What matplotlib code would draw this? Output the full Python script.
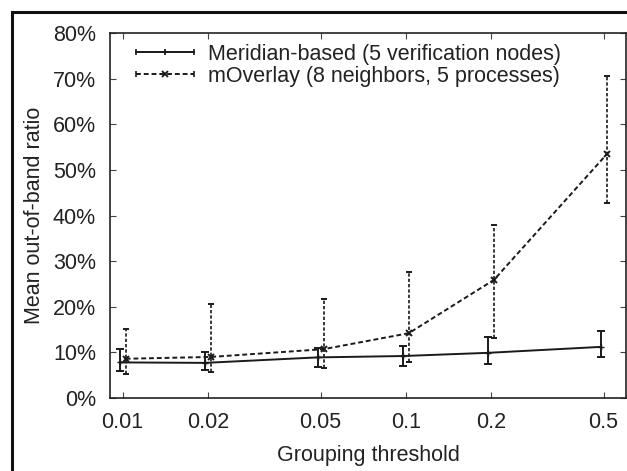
import matplotlib
matplotlib.use('Agg')
from matplotlib import pyplot as plt
from matplotlib.patches import Rectangle
from matplotlib.lines import Line2D

plt.rcParams['font.family'] = ['Liberation Sans', 'DejaVu Sans']

thresholds = [0.01, 0.02, 0.05, 0.1, 0.2, 0.5]

# Meridian-based (5 verification nodes), in percent
meridian_mean = [7.8, 7.7, 8.9, 9.2, 9.9, 11.2]
meridian_low = [6.0, 6.2, 6.8, 7.1, 7.5, 8.9]
meridian_high = [10.7, 10.1, 11.0, 11.4, 13.4, 14.7]

# mOverlay (8 neighbors, 5 processes), in percent
moverlay_mean = [8.6, 9.0, 10.7, 14.2, 25.9, 53.4]
moverlay_low = [5.3, 5.8, 6.6, 7.8, 13.1, 42.8]
moverlay_high = [15.2, 20.6, 21.6, 27.6, 37.9, 70.6]

xticklabels = ['0.01', '0.02', '0.05', '0.1', '0.2', '0.5']
yticks = [0, 10, 20, 30, 40, 50, 60, 70, 80]

FS = 15.5
INK = '#1a1a1a'
DASH = (0, (2.5, 1.5))


class CapHandler:
    # legend key drawn like gnuplot: |---marker---|
    def __init__(self, ls, marker):
        self.ls = ls
        self.marker = marker

    def legend_artist(self, legend, orig_handle, fontsize, handlebox):
        x0, y0 = handlebox.xdescent, handlebox.ydescent
        w, h = handlebox.width, handlebox.height
        y = y0 + h / 2
        line = Line2D([x0, x0 + w], [y, y], color=INK, linestyle=self.ls, linewidth=1.4)
        caps = Line2D([x0, x0 + w], [y, y], color=INK, linestyle='none', marker='|',
                      markersize=5, markeredgewidth=1.2)
        mid = Line2D([x0 + w / 2], [y], color=INK, linestyle='none', marker=self.marker,
                     markersize=5, markeredgewidth=1.3)
        for a in (line, caps, mid):
            a.set_transform(handlebox.get_transform())
            handlebox.add_artist(a)
        return line


fig = plt.figure(figsize=(6.27, 4.71), dpi=100)
ax = fig.add_axes([110 / 627, 1 - 398 / 471, 516 / 627, 365 / 471])

# small horizontal shift so the two series don't overlap
xm = [x * 0.976 for x in thresholds]
xo = [x * 1.025 for x in thresholds]

m_err = [[m - lo for m, lo in zip(meridian_mean, meridian_low)],
         [hi - m for m, hi in zip(meridian_mean, meridian_high)]]
o_err = [[m - lo for m, lo in zip(moverlay_mean, moverlay_low)],
         [hi - m for m, hi in zip(moverlay_mean, moverlay_high)]]

ax.errorbar(xm, meridian_mean, yerr=m_err, color=INK, linestyle='-',
            linewidth=1.4, marker='+', markersize=5, capsize=3, capthick=1.4,
            elinewidth=1.4)
eb = ax.errorbar(xo, moverlay_mean, yerr=o_err, color=INK, linestyle=DASH,
                 linewidth=1.4, marker='x', markersize=5, markeredgewidth=1.4, capsize=2,
                 capthick=1.2, elinewidth=1.2)
for lc in eb[2]:
    lc.set_linestyle((0, (2, 1.2)))

ax.set_xscale('log')
ax.set_xlim(0.00902, 0.60)
ax.set_ylim(0, 80)
ax.set_xticks(thresholds)
ax.set_xticklabels(xticklabels)
ax.minorticks_off()
ax.set_yticks(yticks)
ax.set_yticklabels(['%d%%' % v for v in yticks])
ax.tick_params(direction='in', length=4, width=0.8, labelsize=FS, color='#444444',
               labelcolor='#222222', top=True, right=True, pad=10)
for s in ax.spines.values():
    s.set_linewidth(1.2)
    s.set_color('#222222')

ax.set_xlabel('Grouping threshold', fontsize=FS, labelpad=9, color='#222222')
ax.set_ylabel('Mean out-of-band ratio', fontsize=FS, labelpad=6, color='#222222')

h1, h2 = object(), object()
ax.legend([h1, h2], ['Meridian-based (5 verification nodes)', 'mOverlay (8 neighbors, 5 processes)'],
          handler_map={h1: CapHandler('-', '+'), h2: CapHandler(DASH, 'x')},
          loc='upper left', frameon=False, fontsize=FS, handlelength=2.7,
          borderaxespad=0, borderpad=0, labelspacing=0.05, handletextpad=0.66,
          bbox_to_anchor=(0.05, 0.97), labelcolor='#222222')

# outer frame around the figure (cut at right/bottom)
fig.patches.append(Rectangle((12 / 627, -0.1), 1.2, 1 - 12 / 471 + 0.1,
                             transform=fig.transFigure, fill=False,
                             edgecolor='#111111', linewidth=2.2))

fig.savefig('out.png', dpi=100)
